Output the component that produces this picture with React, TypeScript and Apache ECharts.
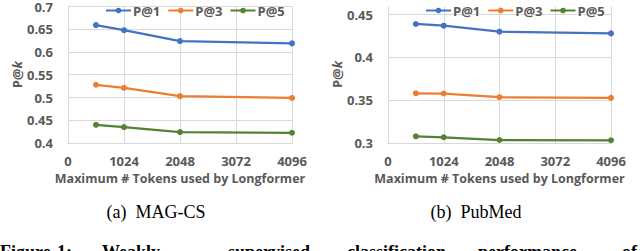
import React, { useEffect, useRef } from "react";
import * as echarts from "echarts";

const xTokens = [512, 1024, 2048, 4096];
const xTicks = [0, 1024, 2048, 3072, 4096];
const seriesNames = ["P@1", "P@3", "P@5"];
const colors = ["#4472C4", "#ED7D31", "#548235"];

const magP1 = [0.659, 0.648, 0.624, 0.619];
const magP3 = [0.528, 0.521, 0.503, 0.499];
const magP5 = [0.44, 0.435, 0.424, 0.4225];

const pubP1 = [0.439, 0.437, 0.43, 0.428];
const pubP3 = [0.358, 0.3578, 0.3535, 0.3527];
const pubP5 = [0.3078, 0.3067, 0.3035, 0.3032];

const subCaptions = ["(a)  MAG-CS", "(b)  PubMed"];
const captionWords = ["Figure", "1:", "Weakly", "supervised", "classification", "performance", "of"];
const captionX = [0, 57, 102, 228, 347, 478, 622];

const FONT = "'Open Sans', Lato, sans-serif";
const TXT = "#595959";
const GRID = "#d9d9d9";

export default function App() {
  const ref = useRef<HTMLDivElement>(null);
  useEffect(() => {
    if (!ref.current) return;
    const chart = echarts.init(ref.current, null, { renderer: "svg" });
    const toPts = (arr: number[]) => xTokens.map((x, i) => [x, arr[i]]);
    const grids = [
      { left: 68, top: 6, width: 224, height: 137 },
      { left: 388, top: 6, width: 223, height: 137 },
    ];
    const labelStyle = { color: TXT, fontFamily: FONT, fontWeight: "bold" as const, fontSize: 13 };
    const xAxes = grids.map((_, gi) => ({
      type: "value",
      gridIndex: gi,
      min: xTicks[0],
      max: xTicks[xTicks.length - 1],
      interval: 1024,
      axisLine: { show: true, lineStyle: { color: GRID, width: 1 } },
      axisTick: { show: false },
      splitLine: { show: true, lineStyle: { color: GRID, width: 1 } },
      axisLabel: { ...labelStyle, margin: 11, formatter: (v: number) => String(v) },
      name: "Maximum # Tokens used by Longformer",
      nameLocation: "middle",
      nameGap: 27,
      nameTextStyle: { ...labelStyle, fontSize: 12.5 },
    }));
    const yRanges = [
      { min: 0.4, max: 0.7 },
      { min: 0.3, max: 0.46 },
    ];
    const yAxes = yRanges.map((r, gi) => ({
      type: "value",
      gridIndex: gi,
      min: r.min,
      max: r.max,
      interval: 0.05,
      axisLine: { show: false },
      axisTick: { show: false },
      splitLine: { show: true, showMaxLine: gi === 0, lineStyle: { color: GRID, width: 1 } },
      axisLabel: { ...labelStyle, margin: 15, showMaxLabel: gi === 0 },
      name: "P@{k|k}",
      nameLocation: "middle",
      nameGap: 44,
      nameTextStyle: {
        ...labelStyle,
        fontSize: 13,
        rich: { k: { ...labelStyle, fontSize: 13, fontStyle: "italic" } },
      },
    }));
    const datasets = [
      [magP1, magP3, magP5],
      [pubP1, pubP3, pubP5],
    ];
    const series: any[] = [];
    datasets.forEach((group, gi) => {
      group.forEach((arr, si) => {
        series.push({
          type: "line",
          name: seriesNames[si],
          xAxisIndex: gi,
          yAxisIndex: gi,
          data: toPts(arr),
          symbol: "circle",
          symbolSize: 6,
          lineStyle: { color: colors[si], width: 2.25 },
          itemStyle: { color: colors[si] },
        });
      });
    });
    const legendBase = {
      top: -1,
      itemWidth: 25,
      itemHeight: 7,
      itemGap: 7,
      textStyle: { ...labelStyle, padding: [0, 0, 0, -3] },
      data: seriesNames,
      selectedMode: false,
    };
    const graphics: any[] = [];
    subCaptions.forEach((t, i) => {
      graphics.push({
        type: "text",
        x: i === 0 ? 156 : 476,
        y: 212,
        style: {
          text: t,
          fontFamily: "'Liberation Serif', 'Times New Roman', serif",
          fontSize: 18,
          fill: "#000",
          align: "center",
          verticalAlign: "middle",
        },
      });
    });
    captionWords.forEach((w, i) => {
      graphics.push({
        type: "text",
        x: captionX[i],
        y: 252,
        style: {
          text: w,
          fontFamily: "'Liberation Serif', 'Times New Roman', serif",
          fontSize: 18,
          fontWeight: "bold",
          fill: "#000",
          align: "left",
          verticalAlign: "middle",
        },
      });
    });
    chart.setOption({
      animation: false,
      backgroundColor: "#fff",
      grid: grids,
      xAxis: xAxes,
      yAxis: yAxes,
      legend: [
        { ...legendBase, left: 100 },
        { ...legendBase, left: 420 },
      ],
      series,
      graphic: graphics,
    });
    return () => chart.dispose();
  }, []);
  return (
    <div
      ref={ref}
      style={{ position: "fixed", left: 0, top: 0, width: 640, height: 251, background: "#fff" }}
    />
  );
}
